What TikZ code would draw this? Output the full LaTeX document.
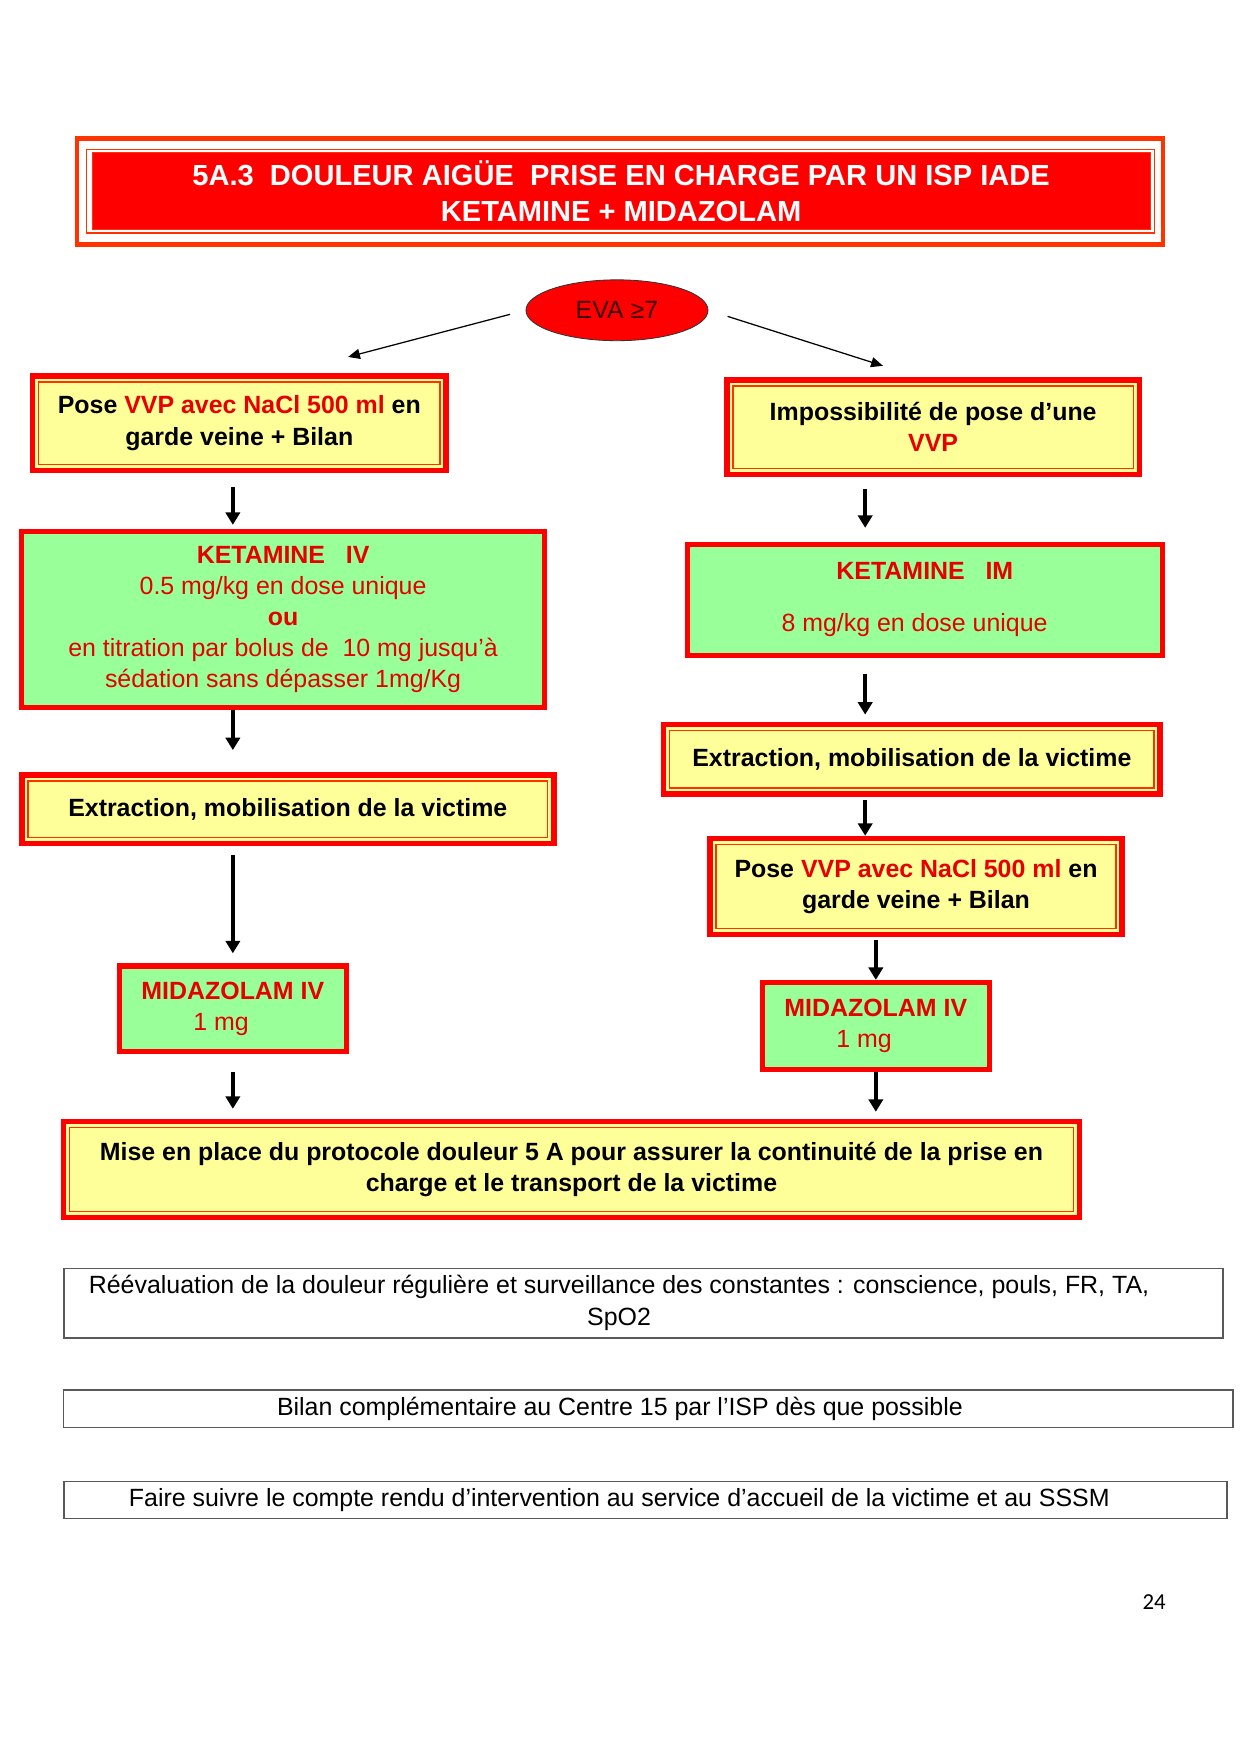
\documentclass[tikz,border=0pt]{standalone}
\usepackage{fontspec}
\setmainfont{Liberation Sans}
\newfontfamily\pagefont{Carlito}
\usetikzlibrary{shapes.geometric,arrows.meta}

\definecolor{boxred}{RGB}{255,0,0}
\definecolor{txtred}{RGB}{230,0,0}
\definecolor{frameorange}{RGB}{255,51,0}
\definecolor{paleyellow}{RGB}{255,255,153}
\definecolor{palegreen}{RGB}{153,255,153}
\definecolor{evatext}{RGB}{60,0,0}

\tikzset{
	yellowbox/.style={draw=boxred, line width=2.7pt, fill=paleyellow, align=center, font=\bfseries\fontsize{12}{15}\selectfont},
	greenbox/.style={draw=boxred, line width=2.5pt, fill=palegreen, align=center, text=txtred, font=\fontsize{12}{15}\selectfont},
	greybox/.style={draw=black!65, line width=0.8pt, align=center, font=\fontsize{12}{15.4}\selectfont},
	flow/.style={-{Triangle[length=2.1mm,width=2.4mm]}, line width=1.8pt},
	thinflow/.style={-{Triangle[length=2mm,width=1.7mm]}, line width=0.6pt},
	innerframe/.style={frameorange, line width=0.7pt},
}
\newcommand{\rd}[1]{\textcolor{txtred}{#1}}

\begin{document}
\begin{tikzpicture}[x=1mm, y=-1mm]
	\useasboundingbox (0,0) rectangle (210,296.97);
	% titre
	\node[fill=boxred, draw=frameorange, line width=0.4pt, minimum width=179mm, minimum height=12.9mm, text=white, align=center, font=\bfseries\fontsize{14}{17.3}\selectfont] (title) at (105.1,32.3) {5A.3\ \ DOULEUR AIGÜE\ \ PRISE EN CHARGE PAR UN ISP IADE\\KETAMINE + MIDAZOLAM};
	\draw[frameorange, line width=0.6pt] ([shift={(-0.9mm,0.5mm)}]title.north west) rectangle ([shift={(0.7mm,-0.6mm)}]title.south east);
	\draw[frameorange, line width=2.2pt] ([shift={(-2.5mm,2.3mm)}]title.north west) rectangle ([shift={(2.1mm,-2.6mm)}]title.south east);
	% EVA
	\node[ellipse, draw=black!80, fill=boxred, minimum width=30.8mm, minimum height=10.3mm, text=evatext, font=\fontsize{12}{14}\selectfont] (eva) at (104.4,52.5) {EVA ≥7};
	\coordinate (evaL) at (58.9,60.4);
	\coordinate (evaR) at (149.4,61.9);
	\draw[thinflow, shorten <=2.7mm] (eva.west) -- (evaL);
	\draw[thinflow, shorten <=3.4mm] (eva.east) -- (evaR);
	% colonne gauche
	\node[yellowbox, minimum width=70mm, minimum height=16mm] (posel) at (40.5,71.6) {Pose \rd{VVP avec NaCl 500 ml} en\\garde veine + Bilan};
	\node[greenbox, minimum width=88.4mm, minimum height=29.7mm] (ketl) at (47.9,104.8) {\textbf{KETAMINE\ \ \ IV}\\0.5 mg/kg en dose unique\\\textbf{ou}\\en titration par bolus de\ \ 10 mg jusqu’à\\sédation sans dépasser 1mg/Kg};
	\node[yellowbox, minimum width=90mm, minimum height=11.6mm] (extl) at (48.7,136.9) {Extraction, mobilisation de la victime};
	\node[greenbox, minimum width=38.4mm, minimum height=14.5mm] (midl) at (39.4,170.7) {\textbf{MIDAZOLAM IV}\\1 mg\hspace*{4mm}};
	% colonne droite
	\node[yellowbox, minimum width=69.8mm, minimum height=16mm] (impr) at (157.9,72.3) {Impossibilité de pose d’une\\\rd{VVP}};
	\node[greenbox, minimum width=80.3mm, minimum height=18.7mm] (ketr) at (156.5,101.5) {\textbf{KETAMINE\ \ \ IM}\\[3.5mm]8 mg/kg en dose unique\hspace*{3.5mm}};
	\node[yellowbox, minimum width=84mm, minimum height=11.8mm] (extr) at (154.3,128.5) {Extraction, mobilisation de la victime};
	\node[yellowbox, minimum width=69.8mm, minimum height=16.2mm] (poser) at (155.0,150.0) {Pose \rd{VVP avec NaCl 500 ml} en\\garde veine + Bilan};
	\node[greenbox, minimum width=38.4mm, minimum height=14.7mm] (midr) at (148.2,173.6) {\textbf{MIDAZOLAM IV}\\1 mg\hspace*{4mm}};
	% protocole
	\node[yellowbox, minimum width=171.9mm, minimum height=16.2mm] (proto) at (96.7,197.9) {Mise en place du protocole douleur 5 A pour assurer la continuité de la prise en\\charge et le transport de la victime};
	\foreach \n in {posel,extl,impr,extr,poser,proto} {
		\draw[innerframe] ([shift={(1.5mm,-1.5mm)}]\n.north west) rectangle ([shift={(-1.5mm,1.5mm)}]\n.south east);
	}
	% fleches
	\coordinate (rcol) at (146.4,0);
	\draw[flow, shorten <=2.4mm, shorten >=0.7mm] (posel.south -| midl.north) -- (ketl.north -| midl.north);
	\draw[flow, shorten >=3.7mm] (ketl.south -| midl.north) -- (extl.north -| midl.north);
	\draw[flow, shorten <=1.5mm, shorten >=1.7mm] (extl.south -| midl.north) -- (midl.north);
	\draw[flow, shorten <=3mm, shorten >=1.7mm] (midl.south) -- (proto.north -| midl.south);
	\draw[flow, shorten <=1.9mm, shorten >=2.4mm] (impr.south -| rcol) -- (ketr.north -| rcol);
	\draw[flow, shorten <=2.7mm, shorten >=1.2mm] (ketr.south -| rcol) -- (extr.north -| rcol);
	\draw[flow, shorten <=0.5mm] (extr.south -| rcol) -- (poser.north -| rcol);
	\draw[flow, shorten <=0.5mm] (poser.south -| midr.north) -- (midr.north);
	\draw[flow, shorten >=1.2mm] (midr.south) -- (proto.north -| midr.south);
	% consignes
	\node[greybox, minimum width=196.2mm, minimum height=10.9mm] (reeval) at (108.9,220.5) {Réévaluation de la douleur régulière et surveillance des constantes : conscience, pouls, FR, TA,\hspace*{8.3mm}\\SpO2\hspace*{8.3mm}};
	\node[greybox, minimum width=197.9mm, minimum height=5.8mm] (bilan) at (109.7,238.4) {Bilan complémentaire au Centre 15 par l’ISP dès que possible\hspace*{9.6mm}};
	\node[greybox, minimum width=196.8mm, minimum height=5.8mm] (cr) at (109.2,253.8) {Faire suivre le compte rendu d’intervention au service d’accueil de la victime et au SSSM\hspace*{8.8mm}};
	\node[font=\pagefont\fontsize{11}{13}\selectfont] (pagenum) at (195.3,271.1) {24};
\end{tikzpicture}
\end{document}
